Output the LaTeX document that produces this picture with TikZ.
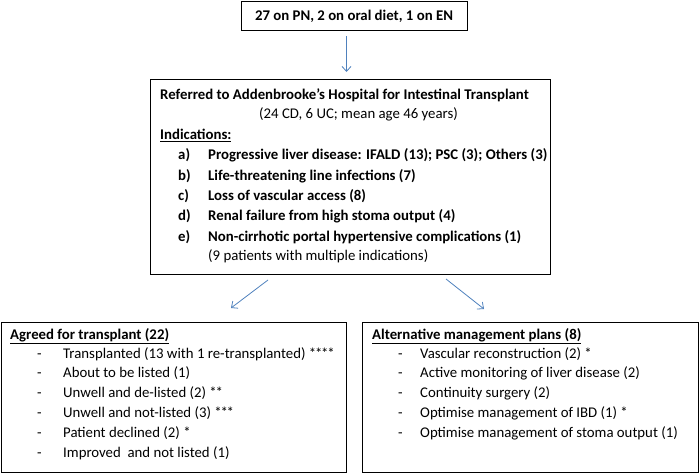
\documentclass[tikz,border=0pt]{standalone}
\usepackage{fontspec}
\setmainfont{Carlito}
\usetikzlibrary{arrows.meta}
\definecolor{arrowblue}{RGB}{79,129,189}
\newcommand\mystars[1]{\foreach \k in {1,...,#1}{*\kern-1.2pt}}
\begin{document}
\begin{tikzpicture}[x=1pt,y=1pt,
  box/.style={draw=black,line width=1pt,inner sep=0pt,anchor=north west},
  txt/.style={anchor=base west,inner sep=0pt,font=\fontsize{14.8}{17}\selectfont},
  btxt/.style={anchor=base west,inner sep=0pt,font=\fontsize{14.8}{17}\selectfont\bfseries},
  arr/.style={draw=arrowblue,line width=0.8pt,-{Straight Barb[length=5pt,width=9pt]}}]
\useasboundingbox (0,0) rectangle (700,474);
% boxes
\node[box,minimum width=226pt,minimum height=29.5pt] (top) at (241,473) {};
\node[box,minimum width=400pt,minimum height=195pt] (main) at (150,395) {};
\node[box,minimum width=345pt,minimum height=150pt] (left) at (1,152) {};
\node[box,minimum width=336pt,minimum height=150pt] (right) at (362,152) {};
% top text
\node[btxt,anchor=base] (toptext) at (354,453) {27 on PN, 2 on oral diet, 1 on EN};
% main text
\node[btxt] (mt) at (160,374) {Referred to Addenbrooke’s Hospital for Intestinal Transplant};
\node[txt] (ms) at (259,355) {(24 CD, 6 UC; mean age 46 years)};
\node[btxt] (mi) at (160,334) {\underline{Indications:}};
\node[btxt] (la) at (178,314) {a)};
\node[btxt] (ia) at (208,314) {Progressive liver disease: IFALD (13); PSC (3); Others (3)};
\node[btxt] (lb) at (178,293) {b)};
\node[btxt] (ib) at (208,293) {Life-threatening line infections (7)};
\node[btxt] (lc) at (178,273) {c)};
\node[btxt] (ic) at (208,273) {Loss of vascular access (8)};
\node[btxt] (ld) at (178,253) {d)};
\node[btxt] (id) at (208,253) {Renal failure from high stoma output (4)};
\node[btxt] (le) at (178,233) {e)};
\node[btxt] (ie) at (208,233) {Non-cirrhotic portal hypertensive complications (1)};
\node[txt] (im) at (208,213) {(9 patients with multiple indications)};
% left text
\node[btxt] (lt) at (10,135) {\underline{Agreed for transplant (22)}};
\foreach \i/\t [count=\n] in {116/{Transplanted (13 with 1 re-transplanted) \mystars{4}},97/{About to be listed (1)},77/{Unwell and de-listed (2) \mystars{2}},57/{Unwell and not-listed (3) \mystars{3}},37/{Patient declined (2) *},17/{Improved\ \ and not listed (1)}}{
  \node[txt] (ld\n) at (37,\i) {-};
  \node[txt] (lx\n) at (63,\i) {\t};
}
% right text
\node[btxt] (rt) at (372,135) {\underline{Alternative management plans (8)}};
\foreach \i/\t [count=\n] in {116/{Vascular reconstruction (2) *},97/{Active monitoring of liver disease (2)},77/{Continuity surgery (2)},57/{Optimise management of IBD (1) *},37/{Optimise management of stoma output (1)}}{
  \node[txt] (rd\n) at (398,\i) {-};
  \node[txt] (rx\n) at (420,\i) {\t};
}
% arrows
\draw[arr] ([xshift=-8pt,yshift=-5pt]top.south) -- ([xshift=-4pt,yshift=7pt]main.north);
\coordinate (la1) at (268,194);
\coordinate (la2) at (231,166);
\coordinate (ra1) at (446,195);
\coordinate (ra2) at (484,165);
\draw[arr] (la1) -- (la2);
\draw[arr] (ra1) -- (ra2);
\end{tikzpicture}
\end{document}
